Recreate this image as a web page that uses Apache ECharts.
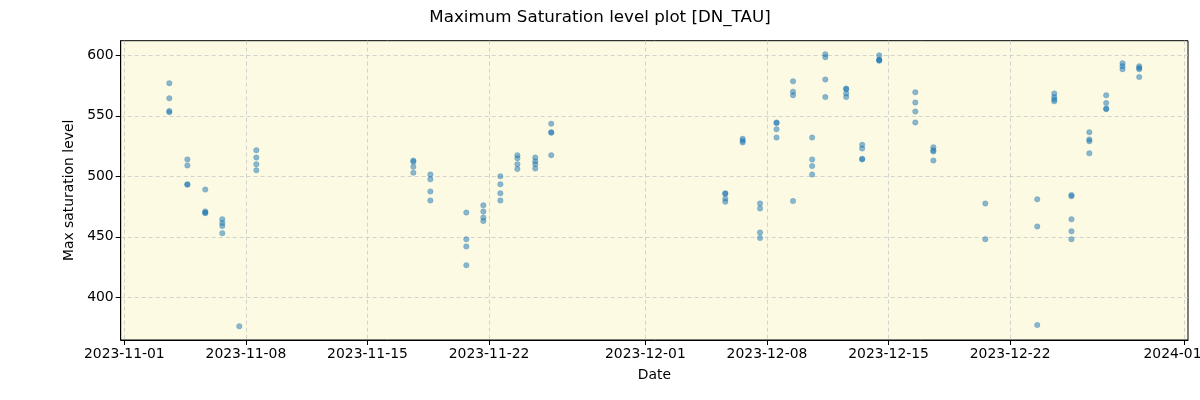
<!DOCTYPE html>
<html>
<head>
<meta charset="utf-8">
<script src="https://cdn.jsdelivr.net/npm/echarts@6/dist/echarts.min.js"></script>
<style>html,body{margin:0;padding:0;background:#fff}#c{width:1200px;height:400px}</style>
</head>
<body>
<div id="c"></div>
<script>
const obsDates = [
  '2023-11-03T14:10','2023-11-04T15:07','2023-11-05T15:50','2023-11-06T15:22','2023-11-07T14:53','2023-11-08T14:24',
  '2023-11-17T15:22','2023-11-18T14:53','2023-11-20T16:34','2023-11-21T16:05','2023-11-22T15:36','2023-11-23T15:07',
  '2023-11-24T15:50','2023-11-25T13:55',
  '2023-12-05T14:24','2023-12-06T14:24','2023-12-07T14:24','2023-12-08T13:12','2023-12-09T12:00','2023-12-10T14:24',
  '2023-12-11T08:38','2023-12-12T13:26','2023-12-13T11:31','2023-12-14T11:02','2023-12-16T12:58','2023-12-17T13:55',
  '2023-12-20T13:41','2023-12-23T13:26','2023-12-24T12:58','2023-12-25T12:43','2023-12-26T13:26','2023-12-27T12:43',
  '2023-12-28T11:17','2023-12-29T10:19'
];
const obsValues = [
  [577, 564.5, 554, 553], [514, 509, 493.5, 493], [489, 471, 470, 469.5], [464.5, 461.5, 459, 453], [376], [521.5, 515.5, 510, 505],
  [513, 512, 508, 503], [501.5, 497.5, 487.5, 480], [470, 448, 442, 426.5], [476, 471, 466, 463], [500, 493.5, 486, 480], [517.5, 515, 510, 506],
  [515.5, 512.5, 510, 506.5], [543.5, 536.5, 536, 517.5],
  [486, 485.5, 481.5, 479], [531, 529.5, 528], [477.5, 473.5, 453.5, 449], [544.5, 544, 539, 532], [578.5, 570, 567, 479.5], [532, 514, 508.5, 501.5],
  [601, 598.5, 580, 565.5], [572.5, 572, 568.5, 565.5], [526, 523, 514.5, 514], [600, 596.5, 596, 595.5], [569.5, 561, 553.5, 544.5], [524, 521.5, 520.5, 513],
  [477.5, 448], [481, 458.5, 377], [568.5, 565.5, 563.5, 562], [484.5, 483.5, 464.5, 454.5, 448], [536.5, 530.5, 529, 519], [567, 560.5, 556, 555.5],
  [593.5, 591, 588.5], [591, 589.5, 588.5, 582]
];
const xTickDates = ['2023-11-01','2023-11-08','2023-11-15','2023-11-22','2023-12-01','2023-12-08','2023-12-15','2023-12-22','2024-01-01'];
const yTicks = [400, 450, 500, 550, 600];
const xRange = ['2023-10-31T19:00', '2024-01-01T05:45'];
const yRange = [364.7, 612.1];

const toTs = s => new Date(s.length === 10 ? s + 'T00:00' : s).getTime();
const points = [];
obsDates.forEach((d, i) => obsValues[i].forEach(v => points.push([toTs(d), v])));
const xTicks = xTickDates.map(toTs);
const pad = n => (n < 10 ? '0' : '') + n;
const fmt = v => { const d = new Date(v); return d.getFullYear() + '-' + pad(d.getMonth() + 1) + '-' + pad(d.getDate()); };

const chart = echarts.init(document.getElementById('c'), null, {renderer: 'canvas'});
const font = 'DejaVu Sans';
chart.setOption({
  animation: false,
  backgroundColor: '#ffffff',
  title: {
    text: 'Maximum Saturation level plot [DN_TAU]',
    left: 'center', top: 4,
    textStyle: {fontFamily: font, fontSize: 16.7, fontWeight: 'normal', color: '#000'}
  },
  grid: {
    left: 120.7, right: 12, top: 40.7, bottom: 60,
    outerBoundsMode: 'none', containLabel: false,
    show: true, backgroundColor: '#fcfae2', borderColor: '#000', borderWidth: 1
  },
  xAxis: {
    type: 'value',
    min: toTs(xRange[0]), max: toTs(xRange[1]),
    name: 'Date', nameLocation: 'middle', nameGap: 28,
    nameTextStyle: {fontFamily: font, fontSize: 13.9, color: '#000'},
    axisLine: {show: true, lineStyle: {color: '#000', width: 1}},
    axisTick: {show: true, length: 5, lineStyle: {color: '#000'}, customValues: xTicks},
    axisLabel: {fontFamily: font, fontSize: 13.9, color: '#000', margin: 7, customValues: xTicks, formatter: v => fmt(v), hideOverlap: false},
    splitLine: {show: true, lineStyle: {color: '#c8c8c8', type: [4, 3], width: 0.8}}
  },
  yAxis: {
    type: 'value',
    min: yRange[0], max: yRange[1],
    name: 'Max saturation level', nameLocation: 'middle', nameGap: 44,
    nameTextStyle: {fontFamily: font, fontSize: 13.9, color: '#000'},
    axisLine: {show: true, lineStyle: {color: '#000', width: 1}},
    axisTick: {show: true, length: 5, lineStyle: {color: '#000'}, customValues: yTicks},
    axisLabel: {fontFamily: font, fontSize: 13.9, color: '#000', margin: 7, customValues: yTicks},
    splitLine: {show: true, lineStyle: {color: '#c8c8c8', type: [4, 3], width: 0.8}}
  },
  series: [{
    type: 'scatter',
    data: points,
    symbolSize: 5.5,
    itemStyle: {color: 'rgba(31,119,180,0.65)', borderColor: 'rgba(31,119,180,0.45)', borderWidth: 0.6}
  }]
});
</script>
</body>
</html>
